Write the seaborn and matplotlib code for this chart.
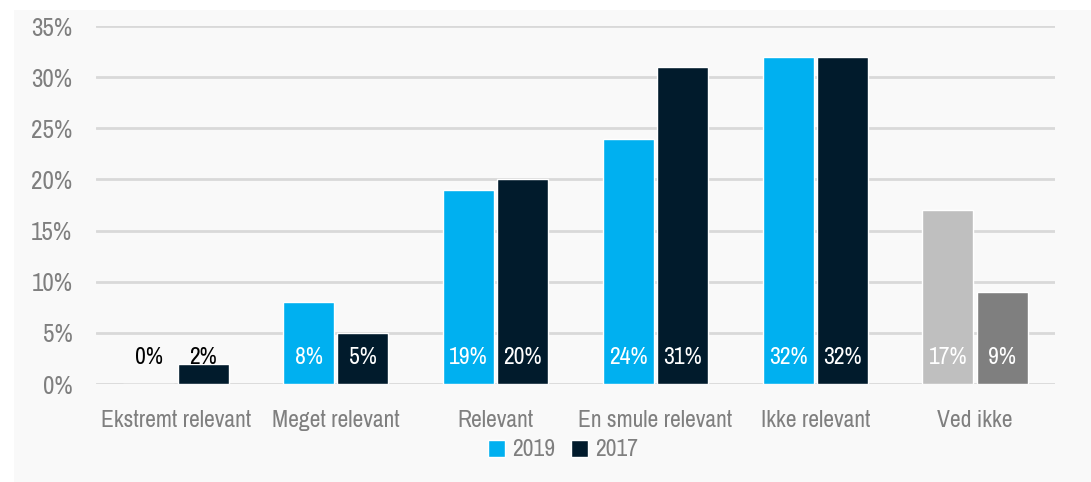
import matplotlib
matplotlib.use("Agg")
import matplotlib.pyplot as plt
import seaborn as sns
import pandas as pd
from matplotlib.patches import Rectangle, Patch
from matplotlib import font_manager

categories = ["Ekstremt relevant", "Meget relevant", "Relevant", "En smule relevant", "Ikke relevant", "Ved ikke"]
values_2019 = [0, 8, 19, 24, 32, 17]
values_2017 = [2, 5, 20, 31, 32, 9]
series = ["2019", "2017"]
yticks = [0, 5, 10, 15, 20, 25, 30, 35]

sns.set_theme(style="white")

# pick a condensed font if available
names = sorted({(f.name, f.stretch) for f in font_manager.fontManager.ttflist})
cond = [n for n, s in names if ("Narrow" in n or "Condensed" in n)]
cond_stretch = [n for n, s in names if isinstance(s, str) and "condensed" in s]
STRETCH = "normal"
if cond:
    FONT = [cond[0], "DejaVu Sans"]
elif cond_stretch:
    FONT = [cond_stretch[0], "DejaVu Sans"]
    STRETCH = "condensed"
else:
    FONT = ["DejaVu Sans"]
plt.rcParams["font.family"] = FONT
plt.rcParams["font.stretch"] = STRETCH

df = pd.DataFrame({
    "cat": categories * 2,
    "year": [series[0]] * len(categories) + [series[1]] * len(categories),
    "val": values_2019 + values_2017,
})

W, H = 1091, 482
fig = plt.figure(figsize=(W / 100, H / 100), dpi=100)
fig.patch.set_facecolor("white")
bg = Rectangle((14 / W, 0), 1 - 14 / W, 1 - 10 / H, transform=fig.transFigure,
               facecolor="#f9f9f9", edgecolor="none", zorder=-10)
fig.patches.append(bg)
ax = fig.add_axes([96 / W, 1 - 384 / H, (1055 - 96) / W, (384 - 26) / H])
ax.set_facecolor("none")
ax.set_zorder(1)

blue, dark = "#00b0f0", "#011b2c"
sns.barplot(data=df, x="cat", y="val", hue="year", hue_order=series, order=categories,
            palette=[blue, dark], width=0.68, gap=0.06, ax=ax, legend=False, zorder=3,
            saturation=1)

n = len(categories)
bars = ax.patches
grey_map = {n - 1: "#bfbfbf", 2 * n - 1: "#7f7f7f"}
for idx, c in grey_map.items():
    bars[idx].set_facecolor(c)

allv = values_2019 + values_2017
for i, b in enumerate(bars[:2 * n]):
    v = allv[i]
    color = "black" if v < 3 else "white"
    ax.text(b.get_x() + b.get_width() / 2, 2.6, f"{v}%", ha="center", va="center",
            color=color, fontsize=17, zorder=5)

ax.set_ylim(0, 35)
ax.set_xlim(-0.5, n - 0.5)
ax.set_yticks(yticks)
ax.set_yticklabels([f"{t}%" for t in yticks], color="#7f7f7f", fontsize=18)
ax.tick_params(axis="y", length=0, pad=17)
ax.tick_params(axis="x", length=0, pad=19, labelsize=17, labelcolor="#7f7f7f")
ax.grid(axis="y", color="#d9d9d9", linewidth=2, zorder=0)
ax.set_axisbelow(True)
for s in ax.spines.values():
    s.set_visible(False)
ax.set_xlabel("")
ax.set_ylabel("")

handles = [Patch(facecolor=blue), Patch(facecolor=dark)]
leg = fig.legend(handles, series, loc="center", bbox_to_anchor=(563 / W, 1 - 450 / H), ncol=2,
                 frameon=False, fontsize=17, handlelength=0.7, handleheight=0.7,
                 handletextpad=0.3, columnspacing=0.7)
for t in leg.get_texts():
    t.set_color("#7f7f7f")

fig.savefig("out.png", dpi=100)
